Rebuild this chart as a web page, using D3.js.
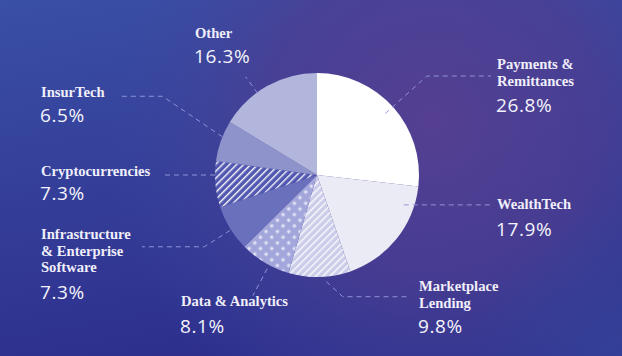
<!DOCTYPE html>
<html><head><meta charset="utf-8">
<script src="https://cdn.jsdelivr.net/npm/d3@7"></script>
<style>html,body{margin:0;padding:0;overflow:hidden;background:#35449c}</style>
</head><body>
<svg id="c" width="622" height="356"></svg>
<script>
// ---- data ----
const categories = ["Payments & Remittances","WealthTech","Marketplace Lending","Data & Analytics",
  "Infrastructure & Enterprise Software","Cryptocurrencies","InsurTech","Other"];
const shares = [26.8, 17.9, 9.8, 8.1, 7.3, 7.3, 6.5, 16.3];
const labelLines = [["Payments &","Remittances"],["WealthTech"],["Marketplace","Lending"],["Data & Analytics"],
  ["Infrastructure","& Enterprise","Software"],["Cryptocurrencies"],["InsurTech"],["Other"]];
const fills = ["#ffffff","#ebebf6","url(#pLend)","url(#pData)","#6b70bd","url(#pCrypto)","#8e93cb","#b2b5dc"];

// label layout (annotation placement)
const labelPos = [
  {x:497,y:69, pct:112, a:48, r0:0.9, r1:1.45, ex:491},
  {x:497,y:209,pct:236, a:109,r0:0.9, r1:0.9,  ex:491},
  {x:419,y:291,pct:333, a:175,r0:1.05,r1:1.22, ex:409, elbowA:168},
  {x:181,y:306,pct:333, a:208,r0:1.04,r1:1.34, ex:null},
  {x:41, y:239,pct:299, a:237.5,r0:1.01,r1:1.31, ex:142},
  {x:41, y:176,pct:200, a:270,r0:1.0, r1:1.0,  ex:165},
  {x:41, y:97, pct:122, a:292,r0:1.0, r1:1.7,  ex:120, elbowA:297},
  {x:195,y:38, pct:63,  a:324,r0:0.99,r1:1.19, ex:null}
];

const W=622,H=356, cx=317, cy=175, R=102;
const svg=d3.select("#c");
const defs=svg.append("defs");

// background
const lg=defs.append("linearGradient").attr("id","bg").attr("x1","0").attr("y1","0").attr("x2","0.3").attr("y2","1");
lg.append("stop").attr("offset","0").attr("stop-color","#3a4fa6");
lg.append("stop").attr("offset","1").attr("stop-color","#2e2f8d");
const rg=defs.append("radialGradient").attr("id","glow").attr("gradientUnits","userSpaceOnUse")
  .attr("cx",430).attr("cy",120).attr("r",330);
rg.append("stop").attr("offset","0").attr("stop-color","#553f92").attr("stop-opacity",1);
rg.append("stop").attr("offset","0.5").attr("stop-color","#4e3f92").attr("stop-opacity",0.7);
rg.append("stop").attr("offset","1").attr("stop-color","#3a4aa0").attr("stop-opacity",0);
const rg2=defs.append("radialGradient").attr("id","glow2").attr("gradientUnits","userSpaceOnUse")
  .attr("cx",622).attr("cy",356).attr("r",150);
rg2.append("stop").attr("offset","0").attr("stop-color","#36499c").attr("stop-opacity",0.6);
rg2.append("stop").attr("offset","1").attr("stop-color","#36499c").attr("stop-opacity",0);

svg.append("rect").attr("width",W).attr("height",H).attr("fill","url(#bg)");
svg.append("rect").attr("width",W).attr("height",H).attr("fill","url(#glow)");
svg.append("rect").attr("width",W).attr("height",H).attr("fill","url(#glow2)");

// patterns
function stripes(id,bg,fg,op){
  const p=defs.append("pattern").attr("id",id).attr("patternUnits","userSpaceOnUse")
    .attr("width",5).attr("height",5).attr("patternTransform","rotate(45)");
  p.append("rect").attr("width",5).attr("height",5).attr("fill",bg);
  p.append("rect").attr("x",0).attr("width",1.4).attr("height",5).attr("fill",fg).attr("opacity",op);
}
stripes("pLend","#cbcde9","#ffffff",0.9);
stripes("pCrypto","#5258b0","#ffffff",0.95);
const pd=defs.append("pattern").attr("id","pData").attr("patternUnits","userSpaceOnUse")
  .attr("width",8).attr("height",8).attr("patternTransform","rotate(45)");
pd.append("rect").attr("width",8).attr("height",8).attr("fill","#a3a6da");
pd.append("rect").attr("x",2.5).attr("y",2.5).attr("width",3).attr("height",3).attr("fill","#e4e5f6");

// pie
const pie=d3.pie().sort(null).value(d=>d);
const arcs=pie(shares);
const arc=d3.arc().innerRadius(0).outerRadius(R);
const g=svg.append("g").attr("transform",`translate(${cx},${cy})`);
g.selectAll("path").data(arcs).join("path")
  .attr("d",arc).attr("fill",(d,i)=>fills[i]);

// leader lines
const pol=(deg,r)=>{const a=deg*Math.PI/180;return [cx+r*Math.sin(a), cy-r*Math.cos(a)];};
const lines=svg.append("g").attr("fill","none").attr("stroke","#9498dc").attr("stroke-width",1)
  .attr("stroke-dasharray","5,4").attr("opacity",0.95);
labelPos.forEach((L,i)=>{
  const p0=pol(L.a,R*L.r0);
  const p1=pol(L.elbowA!=null?L.elbowA:L.a,R*L.r1);
  const pts=[p0,p1];
  if(L.ex!=null) pts.push([L.ex,p1[1]]);
  lines.append("path").attr("d",d3.line()(pts));
});

// labels
const tg=svg.append("g");
labelPos.forEach((L,i)=>{
  labelLines[i].forEach((t,j)=>{
    tg.append("text").attr("x",L.x).attr("y",L.y+j*16.5).text(t)
      .attr("font-family","'Liberation Serif',serif").attr("font-weight","bold")
      .attr("font-size",14.6).attr("fill","#f1effa");
  });
  tg.append("text").attr("x",L.x-1).attr("y",L.pct).text(shares[i].toFixed(1)+"%")
    .attr("font-family","'Open Sans',sans-serif").attr("font-size",19).attr("letter-spacing",0.6)
    .attr("fill","#f4f3fb");
});
</script>
</body></html>
